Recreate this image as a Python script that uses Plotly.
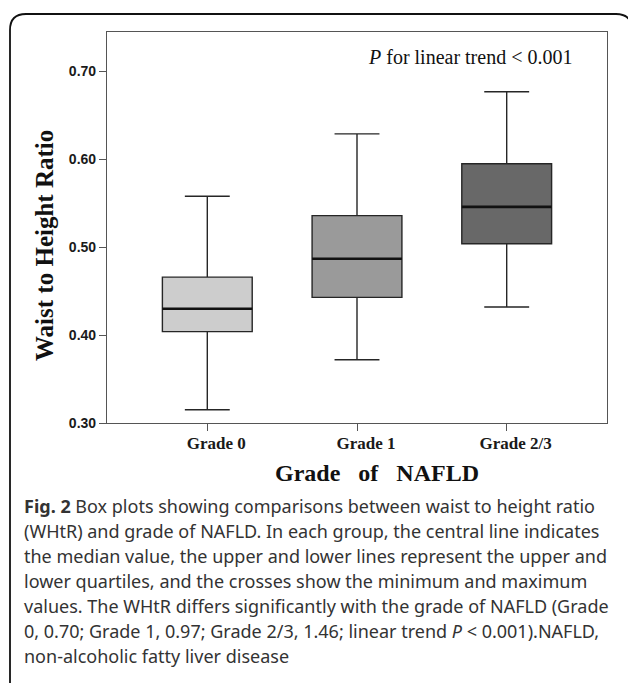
import plotly.graph_objects as go

# ---- data ----
categories = ["Grade 0", "Grade 1", "Grade 2/3"]
lower_whisker = [0.315, 0.372, 0.432]
q1_values = [0.404, 0.443, 0.504]
median_values = [0.430, 0.487, 0.546]
q3_values = [0.466, 0.536, 0.595]
upper_whisker = [0.558, 0.629, 0.677]
fill_colors = ["#cdcdcd", "#9a9a9a", "#686868"]
y_ticks = [0.30, 0.40, 0.50, 0.60, 0.70]
y_tick_labels = ["0.30", "0.40", "0.50", "0.60", "0.70"]

caption_lines = [
    "<b>Fig. 2</b> Box plots showing comparisons between waist to height ratio",
    "(WHtR) and grade of NAFLD. In each group, the central line indicates",
    "the median value, the upper and lower lines represent the upper and",
    "lower quartiles, and the crosses show the minimum and maximum",
    "values. The WHtR differs significantly with the grade of NAFLD (Grade",
    "0, 0.70; Grade 1, 0.97; Grade 2/3, 1.46; linear trend <i>P</i> &lt; 0.001).NAFLD,",
    "non-alcoholic fatty liver disease",
]

BOX_WIDTH = 0.6
W, H = 628, 683
ML, MR, MT, MB = 107, 21, 32, 260
PW, PH = W - ML - MR, H - MT - MB


def px(xp):
    return (xp - ML) / PW


def py(yp):
    return (H - MB - yp) / PH


fig = go.Figure()
for i, cat in enumerate(categories):
    fig.add_trace(go.Box(
        x=[i], q1=[q1_values[i]], median=[median_values[i]], q3=[q3_values[i]],
        lowerfence=[lower_whisker[i]], upperfence=[upper_whisker[i]],
        width=BOX_WIDTH, whiskerwidth=0.5, boxpoints=False,
        fillcolor=fill_colors[i], line=dict(color="#262626", width=1.4),
        name=cat, showlegend=False, hoverinfo="skip",
    ))

# thicker median lines
mx, my = [], []
for i, m in enumerate(median_values):
    mx += [i - BOX_WIDTH / 2, i + BOX_WIDTH / 2, None]
    my += [m, m, None]
fig.add_trace(go.Scatter(x=mx, y=my, mode="lines", line=dict(color="#111111", width=2.6),
                         showlegend=False, hoverinfo="skip"))

fig.update_layout(
    width=W, height=H, margin=dict(l=ML, r=MR, t=MT, b=MB),
    paper_bgcolor="white", plot_bgcolor="white", showlegend=False,
    boxmode="overlay",
)
fig.update_xaxes(
    range=[-0.67, 2.67], tickvals=list(range(len(categories))), ticktext=categories,
    showline=True, linecolor="#555555", linewidth=1.2, mirror=True,
    ticks="outside", ticklen=7, tickcolor="#555555", tickwidth=1.2,
    showgrid=False, zeroline=False, ticklabelshift=9, ticklabelstandoff=-3,
    tickfont=dict(family="Liberation Serif", size=17, color="#1a1a1a", weight="bold"),
)
fig.update_yaxes(
    range=[0.30, 0.745], tickvals=y_ticks, ticktext=y_tick_labels,
    showline=True, linecolor="#555555", linewidth=1.2, mirror=True,
    ticks="outside", ticklen=7, tickcolor="#555555", tickwidth=1.2,
    showgrid=False, zeroline=False,
    tickfont=dict(family="Liberation Sans", size=14, color="#1a1a1a", weight="bold"),
)

annotations = [
    dict(text="<i>P</i> for linear trend &lt; 0.001", x=px(574), y=py(57), xref="paper", yref="paper",
         xanchor="right", yanchor="middle", showarrow=False,
         font=dict(family="Liberation Serif", size=20, color="#111111")),
    dict(text="<b>Waist to Height Ratio</b>", x=px(44), y=py(246), xref="paper", yref="paper",
         xanchor="center", yanchor="middle", textangle=-90, showarrow=False,
         font=dict(family="Liberation Serif", size=25, color="#111111")),
    dict(text="<b>Grade   of   NAFLD</b>", x=px(377), y=py(473), xref="paper", yref="paper",
         xanchor="center", yanchor="middle", showarrow=False,
         font=dict(family="Liberation Serif", size=24, color="#111111")),
]
for k, line in enumerate(caption_lines):
    annotations.append(dict(
        text=line, x=px(22), y=py(506 + 25 * k), xref="paper", yref="paper",
        xanchor="left", yanchor="middle", showarrow=False, align="left",
        font=dict(family="Noto Sans", size=18, color="#333333"),
    ))
fig.update_layout(annotations=annotations)

# rounded outer frame (top-left corner visible, continues off page)
r = 16
x0, y0 = 10, 14
path = (f"M {px(x0)},{py(H + 10)} L {px(x0)},{py(y0 + r)} "
        f"Q {px(x0)},{py(y0)} {px(x0 + r)},{py(y0)} "
        f"L {px(W + 4 - r)},{py(y0)} Q {px(W + 4)},{py(y0)} {px(W + 4)},{py(y0 + r)} "
        f"L {px(W + 4)},{py(H + 10)}")
fig.add_shape(type="path", path=path, xref="paper", yref="paper",
              line=dict(color="#111111", width=1.8), layer="above")

fig.write_html("out.html")
